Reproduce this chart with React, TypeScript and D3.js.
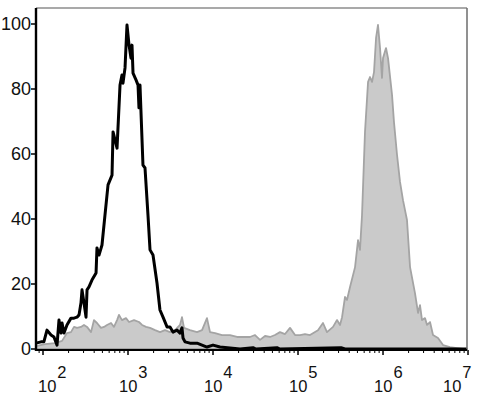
import React from "react";
import * as d3 from "d3";

// x values stored as log10(intensity), y values as % of max
const blackLogX = [1.918, 1.976, 2.01, 2.047, 2.094, 2.129, 2.165, 2.188, 2.212, 2.224, 2.247, 2.282, 2.329, 2.365, 2.4, 2.424, 2.447, 2.459, 2.482, 2.506, 2.518, 2.541, 2.576, 2.624, 2.635, 2.659, 2.694, 2.729, 2.765, 2.812, 2.824, 2.871, 2.906, 2.929, 2.941, 2.965, 2.988, 3.012, 3.035, 3.047, 3.059, 3.094, 3.118, 3.129, 3.141, 3.176, 3.2, 3.235, 3.259, 3.294, 3.341, 3.376, 3.412, 3.459, 3.494, 3.529, 3.576, 3.612, 3.635, 3.647, 3.671, 3.729, 3.812, 3.929, 4.0, 4.082, 4.2, 4.318, 4.471, 4.506, 4.753, 4.788, 5.506, 5.553, 6.988];
const blackY = [1.8, 2.2, 2.2, 5.8, 4.3, 3.7, 1.2, 8.9, 4.9, 8.0, 4.9, 7.4, 9.5, 9.5, 9.8, 10.5, 14.2, 18.2, 14.2, 9.8, 18.2, 19.1, 21.2, 23.4, 31.1, 28.9, 32, 41.2, 50.5, 53.5, 66.8, 61.8, 81.2, 84.3, 81.8, 86.5, 99.7, 93.5, 89.5, 93.5, 84.9, 82.8, 81.2, 74.2, 81.2, 56.6, 55.7, 41.2, 30.5, 28.9, 20.3, 12, 9.8, 6.8, 6.8, 5.2, 5.8, 4.9, 6.5, 3.4, 2.2, 1.8, 1.8, 0.6, 1.2, 0.6, 0.3, 0, 0.4, 0, 0.4, 0, 0.4, 0, 0];

const grayLogX = [1.918, 2.024, 2.141, 2.224, 2.282, 2.329, 2.365, 2.4, 2.447, 2.482, 2.518, 2.565, 2.6, 2.635, 2.682, 2.718, 2.753, 2.8, 2.835, 2.871, 2.894, 2.929, 2.976, 3.012, 3.071, 3.129, 3.165, 3.212, 3.259, 3.318, 3.376, 3.435, 3.494, 3.553, 3.612, 3.635, 3.659, 3.729, 3.812, 3.871, 3.929, 3.965, 4.024, 4.106, 4.2, 4.282, 4.376, 4.435, 4.494, 4.553, 4.612, 4.671, 4.729, 4.788, 4.847, 4.906, 4.965, 5.024, 5.082, 5.141, 5.235, 5.294, 5.341, 5.412, 5.459, 5.494, 5.518, 5.553, 5.576, 5.612, 5.671, 5.706, 5.729, 5.753, 5.788, 5.824, 5.847, 5.871, 5.894, 5.918, 5.941, 5.965, 5.988, 6.0, 6.035, 6.059, 6.106, 6.129, 6.165, 6.2, 6.235, 6.282, 6.318, 6.376, 6.412, 6.435, 6.459, 6.494, 6.518, 6.553, 6.588, 6.647, 6.706, 6.788, 6.871, 6.941, 6.988];
const grayY = [0.9, 1.5, 1.8, 2.5, 4.9, 5.2, 6.8, 6.5, 6.8, 7.4, 6.8, 5.2, 8.9, 8.0, 6.5, 6.8, 7.4, 8.0, 6.8, 8.9, 10.5, 8.9, 9.5, 8.3, 8.9, 8.3, 7.4, 6.8, 6.5, 5.8, 5.2, 5.8, 5.2, 5.8, 7.4, 9.8, 6.5, 5.8, 5.2, 5.8, 9.5, 5.2, 4.9, 4.3, 4.3, 3.7, 3.7, 3.7, 4.3, 2.8, 4.0, 3.7, 4.3, 5.2, 4.6, 6.5, 4.3, 4.3, 4.6, 4.3, 5.8, 8.0, 5.2, 6.8, 8.9, 7.4, 9.8, 16, 15.1, 19.1, 25.2, 33.5, 30.5, 41.2, 66.8, 82.2, 83.7, 82.2, 85.2, 95.7, 99.7, 92.6, 83.4, 89.5, 92.6, 89.5, 78.2, 69.8, 59.7, 51.4, 45.8, 39.7, 25.2, 17.2, 11.1, 13.5, 8.9, 9.5, 7.4, 8.3, 4.3, 3.4, 1.2, 0.6, 0.3, 0, 0];

const yTicks = [0, 20, 40, 60, 80, 100];
const xDecades = [2, 3, 4, 5, 6, 7];

export default function App() {
  const W = 480, H = 406;
  const left = 36, right = 467, top = 8, bottom = 350;
  const x = d3.scaleLog().domain([Math.pow(10, 1.9176), Math.pow(10, 6.988)]).range([left, right]);
  const y = d3.scaleLinear().domain([0, 100]).range([349, 24]);

  const black = blackLogX.map((v, i) => [Math.pow(10, v), blackY[i]] as [number, number]);
  const gray = grayLogX.map((v, i) => [Math.pow(10, v), grayY[i]] as [number, number]);

  const line = d3.line<[number, number]>().x(d => x(d[0])).y(d => y(d[1]));
  const area = d3.area<[number, number]>().x(d => x(d[0])).y0(y(0)).y1(d => y(d[1]));

  const [d0, d1] = x.domain();
  const minor: number[] = [];
  for (let e = 1; e <= 7; e++) {
    for (let m = 2; m <= 9; m++) {
      const v = m * Math.pow(10, e);
      if (v >= d0 && v <= d1) minor.push(v);
    }
  }

  const font = "'Liberation Sans', Arial, sans-serif";

  return (
    <svg width={W} height={H} style={{ position: "absolute", left: 0, top: 0, background: "#fff" }}>
      <rect x={0} y={0} width={W} height={H} fill="#fff" />
      <path d={area(gray) || ""} fill="#cacaca" stroke="#a4a4a4" strokeWidth={1.8} strokeLinejoin="round" />
      <path d={line(black) || ""} fill="none" stroke="#000" strokeWidth={3} strokeLinejoin="round" />
      {/* frame */}
      <line x1={left} x2={right} y1={top} y2={top} stroke="#8c8c8c" strokeWidth={1.5} />
      <line x1={right} x2={right} y1={top} y2={bottom} stroke="#6c6c6c" strokeWidth={1.5} />
      <line x1={left} x2={left} y1={top} y2={bottom + 1} stroke="#000" strokeWidth={2.4} />
      <line x1={left} x2={right} y1={bottom} y2={bottom} stroke="#000" strokeWidth={2.2} />
      {/* y axis */}
      {yTicks.map(t => (
        <g key={"y" + t}>
          <line x1={left - 5} x2={left} y1={y(t)} y2={y(t)} stroke="#000" strokeWidth={1.5} />
          <text x={left - 5} y={y(t)} dy="0.36em" textAnchor="end" fontFamily={font} fontSize={18} fill="#111">{t}</text>
        </g>
      ))}
      {/* x axis */}
      {minor.map((v, i) => (
        <line key={"m" + i} x1={x(v)} x2={x(v)} y1={bottom} y2={bottom + 3} stroke="#000" strokeWidth={1} />
      ))}
      {xDecades.map(e => {
        const px = x(Math.pow(10, e));
        const cx = Math.max(left + 11, Math.min(right - 15, px));
        return (
          <g key={"x" + e}>
            <line x1={px} x2={px} y1={bottom} y2={bottom + 5} stroke="#000" strokeWidth={1.5} />
            <text x={cx - 9} y={392} fontFamily={font} fontSize={16.5} fill="#111">
              10
              <tspan dx={1} dy={-14} fontSize={16.5}>{e}</tspan>
            </text>
          </g>
        );
      })}
    </svg>
  );
}
